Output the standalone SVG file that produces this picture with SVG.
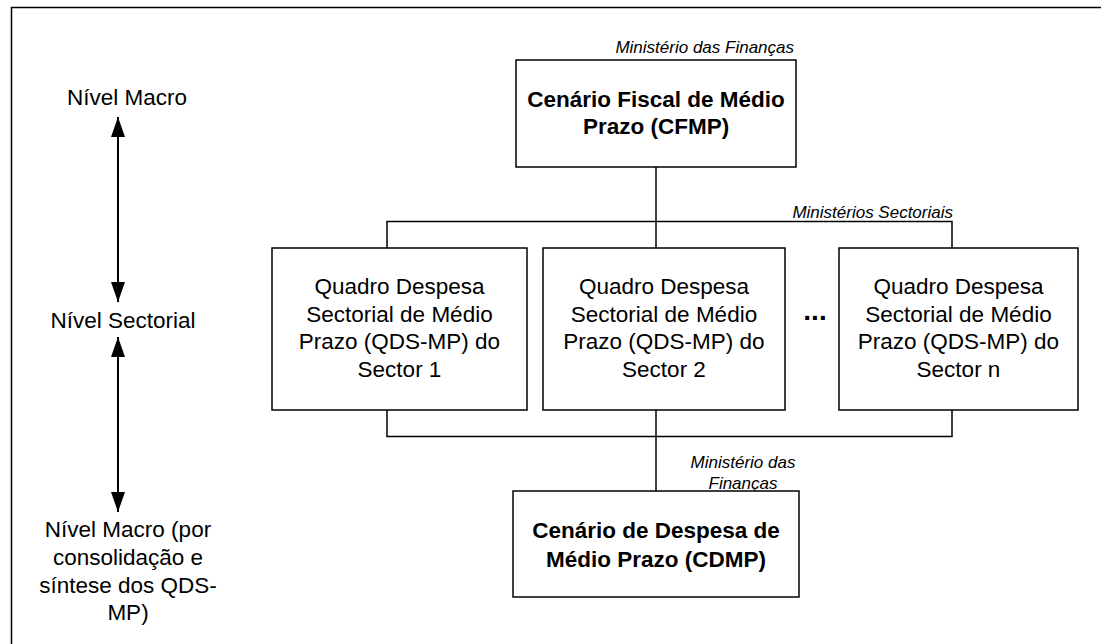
<svg xmlns="http://www.w3.org/2000/svg" width="1101" height="644" viewBox="0 0 1101 644">
<style>
.box{fill:#fff;stroke:#000;stroke-width:1.5}
.ln{fill:none;stroke:#000;stroke-width:1.5}
.arr{fill:none;stroke:#000;stroke-width:2}
.t{font-family:"Liberation Sans",Arial,sans-serif;font-size:22.5px;fill:#000;text-anchor:middle}
.b{font-weight:bold}
.i{font-family:"Liberation Sans",Arial,sans-serif;font-size:17px;font-style:italic;fill:#000}
</style>
<defs>
<marker id="ah" viewBox="0 0 20 14" refX="20" refY="7" markerWidth="20" markerHeight="14" markerUnits="userSpaceOnUse" orient="auto-start-reverse">
<path d="M0,0 L20,7 L0,14 Z" fill="#000"/>
</marker>
</defs>
<rect width="1101" height="644" fill="#fff"/>
<path d="M11.5,644 V7.5 H1101" fill="none" stroke="#000" stroke-width="1.5"/>
<g id="connectors">
<path class="ln" d="M656,167 V248"/>
<path class="ln" d="M387,248 V221.5 H952 V248"/>
<path class="ln" d="M387,410 V436.5 H952 V410"/>
<path class="ln" d="M656,410 V491"/>
<path class="arr" d="M118,117 V302" marker-start="url(#ah)" marker-end="url(#ah)"/>
<path class="arr" d="M118,337 V512" marker-start="url(#ah)" marker-end="url(#ah)"/>
</g>
<g id="level-labels">
<text class="t" x="127" y="105">Nível Macro</text>
<text class="t" x="123" y="328">Nível Sectorial</text>
<text class="t" x="128"><tspan x="128" y="537">Nível Macro (por</tspan><tspan x="128" y="565">consolidação e</tspan><tspan x="128" y="593">síntese dos QDS-</tspan><tspan x="128" y="620">MP)</tspan></text>
</g>
<g id="lbl-mf-top"><text class="i" x="794" y="53" text-anchor="end">Ministério das Finanças</text></g>
<g id="lbl-ms"><text class="i" x="953" y="218" text-anchor="end">Ministérios Sectoriais</text></g>
<g id="lbl-mf-bottom"><text class="i" text-anchor="middle"><tspan x="743" y="468">Ministério das</tspan><tspan x="743" y="489">Finanças</tspan></text></g>
<g id="cfmp">
<rect class="box" x="516" y="60" width="280" height="107"/>
<text class="t b"><tspan x="656" y="107">Cenário Fiscal de Médio</tspan><tspan x="656" y="134">Prazo (CFMP)</tspan></text>
</g>
<g id="qds1">
<rect class="box" x="272" y="248" width="255" height="162"/>
<text class="t"><tspan x="399.5" y="294">Quadro Despesa</tspan><tspan x="399.5" y="322">Sectorial de Médio</tspan><tspan x="399.5" y="349">Prazo (QDS-MP) do</tspan><tspan x="399.5" y="377">Sector 1</tspan></text>
</g>
<g id="qds2">
<rect class="box" x="543" y="248" width="242" height="162"/>
<text class="t"><tspan x="664" y="294">Quadro Despesa</tspan><tspan x="664" y="322">Sectorial de Médio</tspan><tspan x="664" y="349">Prazo (QDS-MP) do</tspan><tspan x="664" y="377">Sector 2</tspan></text>
</g>
<g id="ellipsis"><text class="t b" x="815" y="320" style="font-size:28px">...</text></g>
<g id="qdsn">
<rect class="box" x="839" y="248" width="239" height="162"/>
<text class="t"><tspan x="958.5" y="294">Quadro Despesa</tspan><tspan x="958.5" y="322">Sectorial de Médio</tspan><tspan x="958.5" y="349">Prazo (QDS-MP) do</tspan><tspan x="958.5" y="377">Sector n</tspan></text>
</g>
<g id="cdmp">
<rect class="box" x="513" y="491" width="286" height="106"/>
<text class="t b"><tspan x="656" y="538">Cenário de Despesa de</tspan><tspan x="656" y="567">Médio Prazo (CDMP)</tspan></text>
</g>
</svg>
